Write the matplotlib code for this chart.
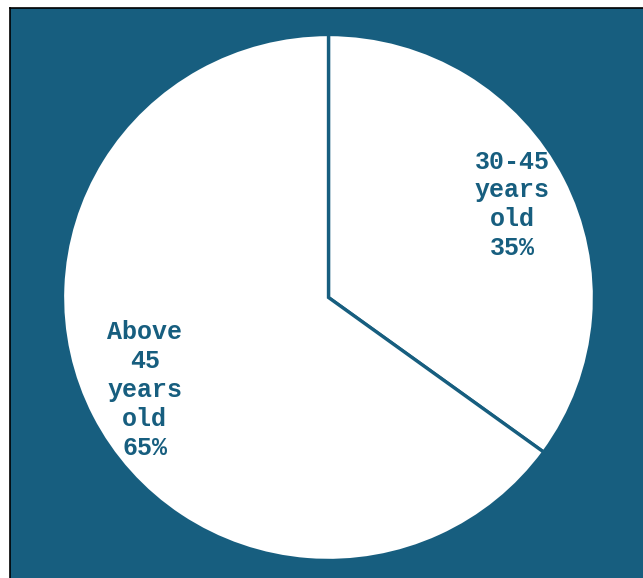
import matplotlib.pyplot as plt

labels = ["30-45\nyears\nold\n35%", "Above\n45\nyears\nold\n65%"]
values = [35, 65]

BLUE = "#175E7F"
W, H = 643, 578
fig = plt.figure(figsize=(W / 100, H / 100), dpi=100, facecolor="white")

# background panel offset into the figure
bgax = fig.add_axes([10 / W, 0, 1 - 10 / W, 1 - 8 / H], zorder=-5)
bgax.set_facecolor(BLUE)
bgax.set_xticks([])
bgax.set_yticks([])
for s in ["right", "bottom"]:
    bgax.spines[s].set_visible(False)
for s in ["left", "top"]:
    bgax.spines[s].set_color("black")
    bgax.spines[s].set_linewidth(1.2)

cx, cy, rx, ry = 328.5, 578 - 297.5, 266, 263
ax = fig.add_axes([(cx - rx) / W, (cy - ry) / H, 2 * rx / W, 2 * ry / H], zorder=1)
ax.set_facecolor("none")
wedges, texts = ax.pie(values, labels=labels, startangle=90, counterclock=False,
                       colors=["white", "white"],
                       wedgeprops=dict(edgecolor=BLUE, linewidth=2.4),
                       labeldistance=0.775,
                       textprops=dict(color=BLUE, fontsize=18, fontweight="bold",
                                      family="Liberation Mono",
                                      linespacing=1.26))
for t in texts:
    t.set_ha("center")
    t.set_va("center")
ax.set_xlim(-1, 1)
ax.set_ylim(-1, 1)
ax.set_aspect("auto")
ax.axis("off")

fig.savefig("out.png", dpi=100, facecolor="white")
